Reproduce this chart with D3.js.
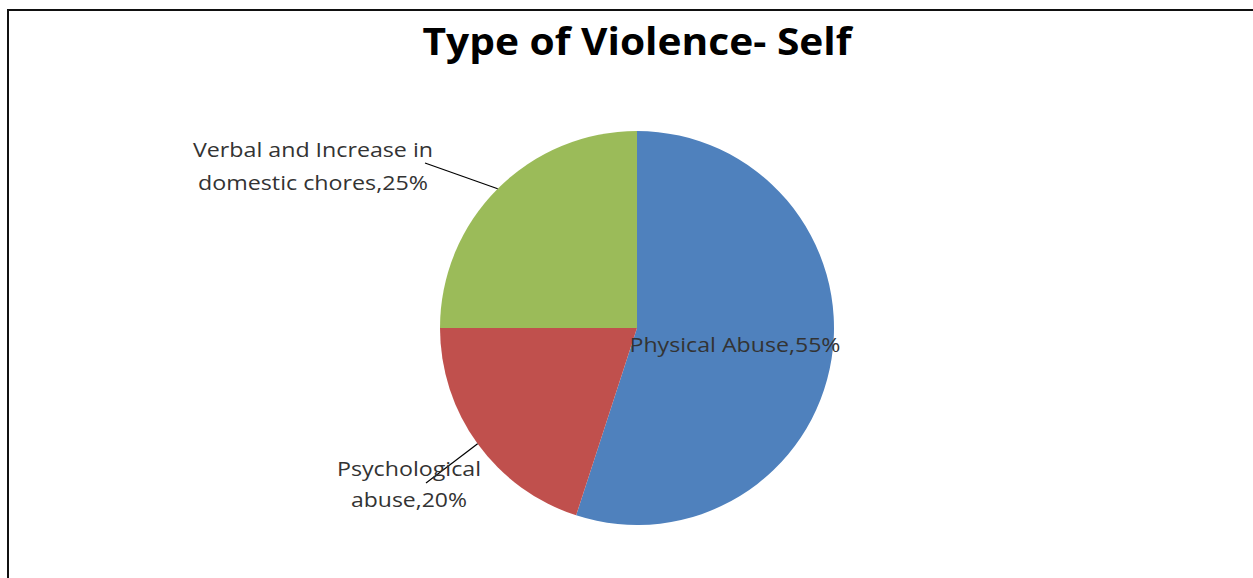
<!DOCTYPE html>
<html>
<head>
<meta charset="utf-8">
<script src="https://cdn.jsdelivr.net/npm/d3@7"></script>
<style>
  html, body { margin: 0; padding: 0; background: #fff; overflow: hidden; }
  svg { display: block; }
</style>
</head>
<body>
<svg id="chart" width="1253" height="578"></svg>
<script>
const title = "Type of Violence- Self";
const categories = ["Physical Abuse", "Psychological abuse", "Verbal and Increase in domestic chores"];
const values = [55, 20, 25];
const labelLines = [
  ["Physical Abuse,55%"],
  ["Psychological", "abuse,20%"],
  ["Verbal and Increase in", "domestic chores,25%"]
];
const colors = ["#4F81BD", "#C0504D", "#9BBB59"];

const svg = d3.select("#chart");
const W = 1253, H = 578;
const cx = 637, cy = 328, R = 197;

// frame with shadow
svg.append("rect").attr("x", 10).attr("y", 12).attr("width", W).attr("height", H)
  .attr("fill", "none").attr("stroke", "#d0d0d0").attr("stroke-width", 2);
svg.append("rect").attr("x", 8).attr("y", 10).attr("width", W).attr("height", H)
  .attr("fill", "#fff").attr("stroke", "#111").attr("stroke-width", 2);

// title
svg.append("text").attr("x", cx).attr("y", 55)
  .attr("text-anchor", "middle")
  .style("font-family", "'Open Sans', sans-serif")
  .style("font-weight", "bold")
  .style("font-size", "37px")
  .attr("fill", "#000")
  .attr("textLength", 429)
  .attr("lengthAdjust", "spacingAndGlyphs")
  .text(title);

const pie = d3.pie().sort(null).value(d => d)(values);
const arc = d3.arc().innerRadius(0).outerRadius(R);
const g = svg.append("g").attr("transform", `translate(${cx},${cy})`);
g.selectAll("path").data(pie).join("path")
  .attr("d", arc)
  .attr("fill", (d, i) => colors[i]);

// label layout (positions relative to pie centre, line widths in px)
const labelPos = [
  {x: 735 - cx, y: 352 - cy, lh: 0, widths: [211]},
  {x: 409 - cx, y: 476 - cy, lh: 31, widths: [144, 116]},
  {x: 313 - cx, y: 157 - cy, lh: 33, widths: [240, 230]}
];
const leaders = [
  null,
  [426 - cx, 483 - cy],
  [425 - cx, 163 - cy]
];

pie.forEach((d, i) => {
  const L = leaders[i];
  if (L) {
    const a = (d.startAngle + d.endAngle) / 2;
    const sx = Math.sin(a) * R, sy = -Math.cos(a) * R;
    g.append("line")
      .attr("x1", sx).attr("y1", sy)
      .attr("x2", L[0]).attr("y2", L[1])
      .attr("stroke", "#000").attr("stroke-width", 1.2);
  }
  const p = labelPos[i];
  labelLines[i].forEach((ln, k) => {
    g.append("text")
      .attr("text-anchor", "middle")
      .attr("x", p.x).attr("y", p.y + k * p.lh)
      .style("font-family", "'Open Sans', sans-serif")
      .style("font-size", "20px")
      .attr("fill", "#333")
      .attr("textLength", p.widths[k])
      .attr("lengthAdjust", "spacingAndGlyphs")
      .text(ln);
  });
});
</script>
</body>
</html>
